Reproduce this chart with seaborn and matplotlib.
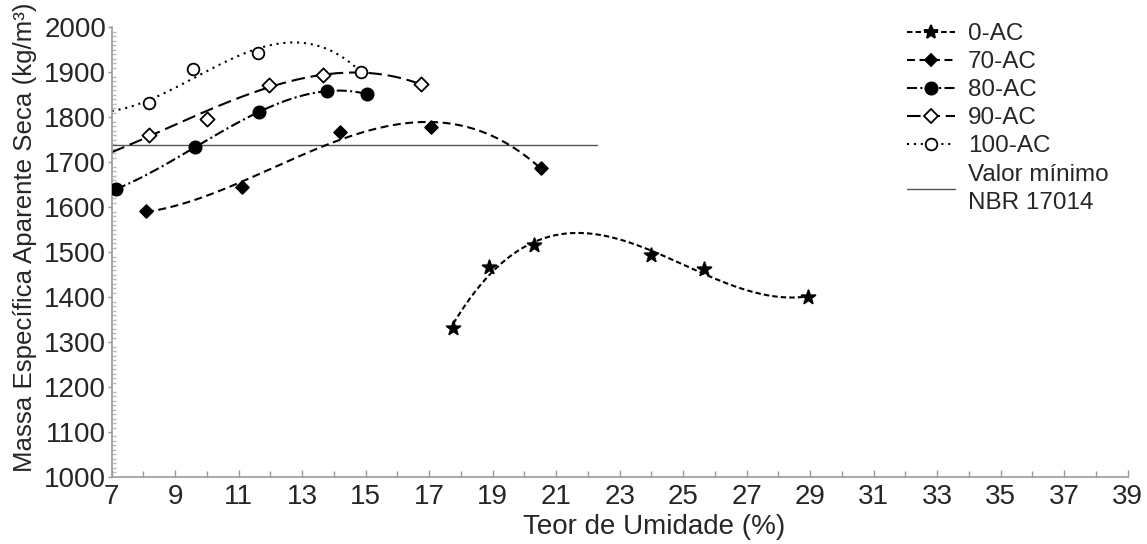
import numpy as np
import pandas as pd
import matplotlib
matplotlib.use("Agg")
import matplotlib.pyplot as plt
import seaborn as sns
from matplotlib.lines import Line2D
from matplotlib.ticker import MultipleLocator

sns.set_theme(style="white")
plt.rcParams['font.family'] = ['Liberation Sans', 'DejaVu Sans']

# ---- measured points ----
x_0ac = [17.76, 18.9, 20.3, 24.0, 25.65, 28.95]
y_0ac = [1332, 1467, 1515, 1493, 1462, 1400]

x_70ac = [8.08, 11.09, 14.19, 17.06, 20.52]
y_70ac = [1592, 1645, 1767, 1778, 1688]

x_80ac = [7.14, 9.62, 11.65, 13.79, 15.05]
y_80ac = [1640, 1733, 1812, 1858, 1851]

x_90ac = [8.18, 9.99, 11.94, 13.66, 16.73]
y_90ac = [1760, 1796, 1871, 1893, 1873]

x_100ac = [8.18, 9.55, 11.62, 14.85]
y_100ac = [1832, 1908, 1942, 1901]

# ---- trend-curve values (3rd-order trendlines) ----
tx_0ac, ty_0ac = x_0ac, y_0ac
tx_70ac, ty_70ac = x_70ac, y_70ac
tx_80ac, ty_80ac = x_80ac, y_80ac
tx_90ac = [7.0, 8.18, 9.99, 11.94, 13.66, 16.73]
ty_90ac = [1721, 1760, 1812, 1866, 1895, 1873]
tx_100ac = [7.0, 8.18, 9.55, 11.62, 12.7, 14.85]
ty_100ac = [1818, 1826, 1897, 1950, 1965, 1901]

labels = ['0-AC', '70-AC', '80-AC', '90-AC', '100-AC']
min_value = 1739
min_value_x = [7, 22.3]
min_label = 'Valor mínimo\nNBR 17014'

x_ticks = list(range(7, 40, 2))
y_ticks = list(range(1000, 2001, 100))

series = [
    (x_0ac, y_0ac, tx_0ac, ty_0ac, '*', 'black', (0, (2.6, 1.5)), 10.5),
    (x_70ac, y_70ac, tx_70ac, ty_70ac, 'D', 'black', (0, (3.8, 2.2)), 6.5),
    (x_80ac, y_80ac, tx_80ac, ty_80ac, 'o', 'black', (0, (4.8, 1.6, 1.0, 1.6)), 8.8),
    (x_90ac, y_90ac, tx_90ac, ty_90ac, 'D', 'white', (0, (6.5, 2.8)), 7.2),
    (x_100ac, y_100ac, tx_100ac, ty_100ac, 'o', 'white', (0, (1.0, 2.3)), 8.4),
]
LW = 1.5

fig = plt.figure(figsize=(11.47, 5.44), dpi=100)
ax = fig.add_axes([0.0974, 0.1232, 0.8856, 0.8268])

handles = []
for (xs, ys, tx, ty, mk, fc, ls, ms), lab in zip(series, labels):
    coef = np.polyfit(tx, ty, 3)
    xf = np.linspace(min(tx), max(tx), 200)
    yf = np.polyval(coef, xf)
    sns.lineplot(x=xf, y=yf, ax=ax, color='black', linewidth=LW, linestyle=ls,
                 legend=False, zorder=2)
    sns.scatterplot(x=xs, y=ys, ax=ax, marker=mk, s=ms**2, color=fc,
                    edgecolor='black', linewidth=1.3, legend=False, zorder=3)
    handles.append(Line2D([], [], color='black', linestyle=ls, linewidth=LW,
                          marker=mk, markersize=ms, markerfacecolor=fc,
                          markeredgecolor='black', markeredgewidth=1.3,
                          label=lab))

sns.lineplot(x=min_value_x, y=[min_value, min_value], ax=ax, color='#555555',
             linewidth=1.0, legend=False, zorder=1)
handles.append(Line2D([], [], color='#555555', linewidth=1.0, label=min_label))

ax.set_xlim(7, 39)
ax.set_ylim(1000, 2000)
ax.set_xticks(x_ticks)
ax.set_yticks(y_ticks)
ax.xaxis.set_minor_locator(MultipleLocator(1))
ax.yaxis.set_minor_locator(MultipleLocator(10))

for s in ['top', 'right']:
    ax.spines[s].set_visible(False)
for s in ['left', 'bottom']:
    ax.spines[s].set_color('#999999')
    ax.spines[s].set_linewidth(1.2)

ax.tick_params(axis='x', which='major', direction='in', length=5, width=1,
               color='#999999', labelsize=20, pad=5)
ax.tick_params(axis='x', which='minor', direction='in', length=4, width=1,
               color='#999999')
ax.tick_params(axis='y', which='major', direction='out', length=3, width=1,
               color='#999999', labelsize=20, pad=1)
ax.tick_params(axis='y', which='minor', direction='in', length=3, width=1,
               color='#bbbbbb')
ax.tick_params(axis='both', which='both', bottom=True, left=True)

ax.set_xlabel('Teor de Umidade (%)', fontsize=20)
ax.xaxis.set_label_coords((654 - 111.7) / 1016.0, -0.083, transform=ax.transAxes)
ax.xaxis.label.set_va('top')
ax.set_ylabel('Massa Específica Aparente Seca (kg/m³)', fontsize=18.6)
ax.yaxis.set_label_coords(-(111.7 - 37) / 1016.0, 0.532, transform=ax.transAxes)

leg = fig.legend(handles=handles, loc='upper left', bbox_to_anchor=(0.7905, 0.9575),
                 frameon=False, fontsize=17.5, handlelength=2.0, handletextpad=0.53,
                 labelspacing=0.25, borderaxespad=0, borderpad=0)
leg.get_texts()[-1].set_linespacing(1.35)

fig.savefig('out.png', dpi=100, facecolor='white')
